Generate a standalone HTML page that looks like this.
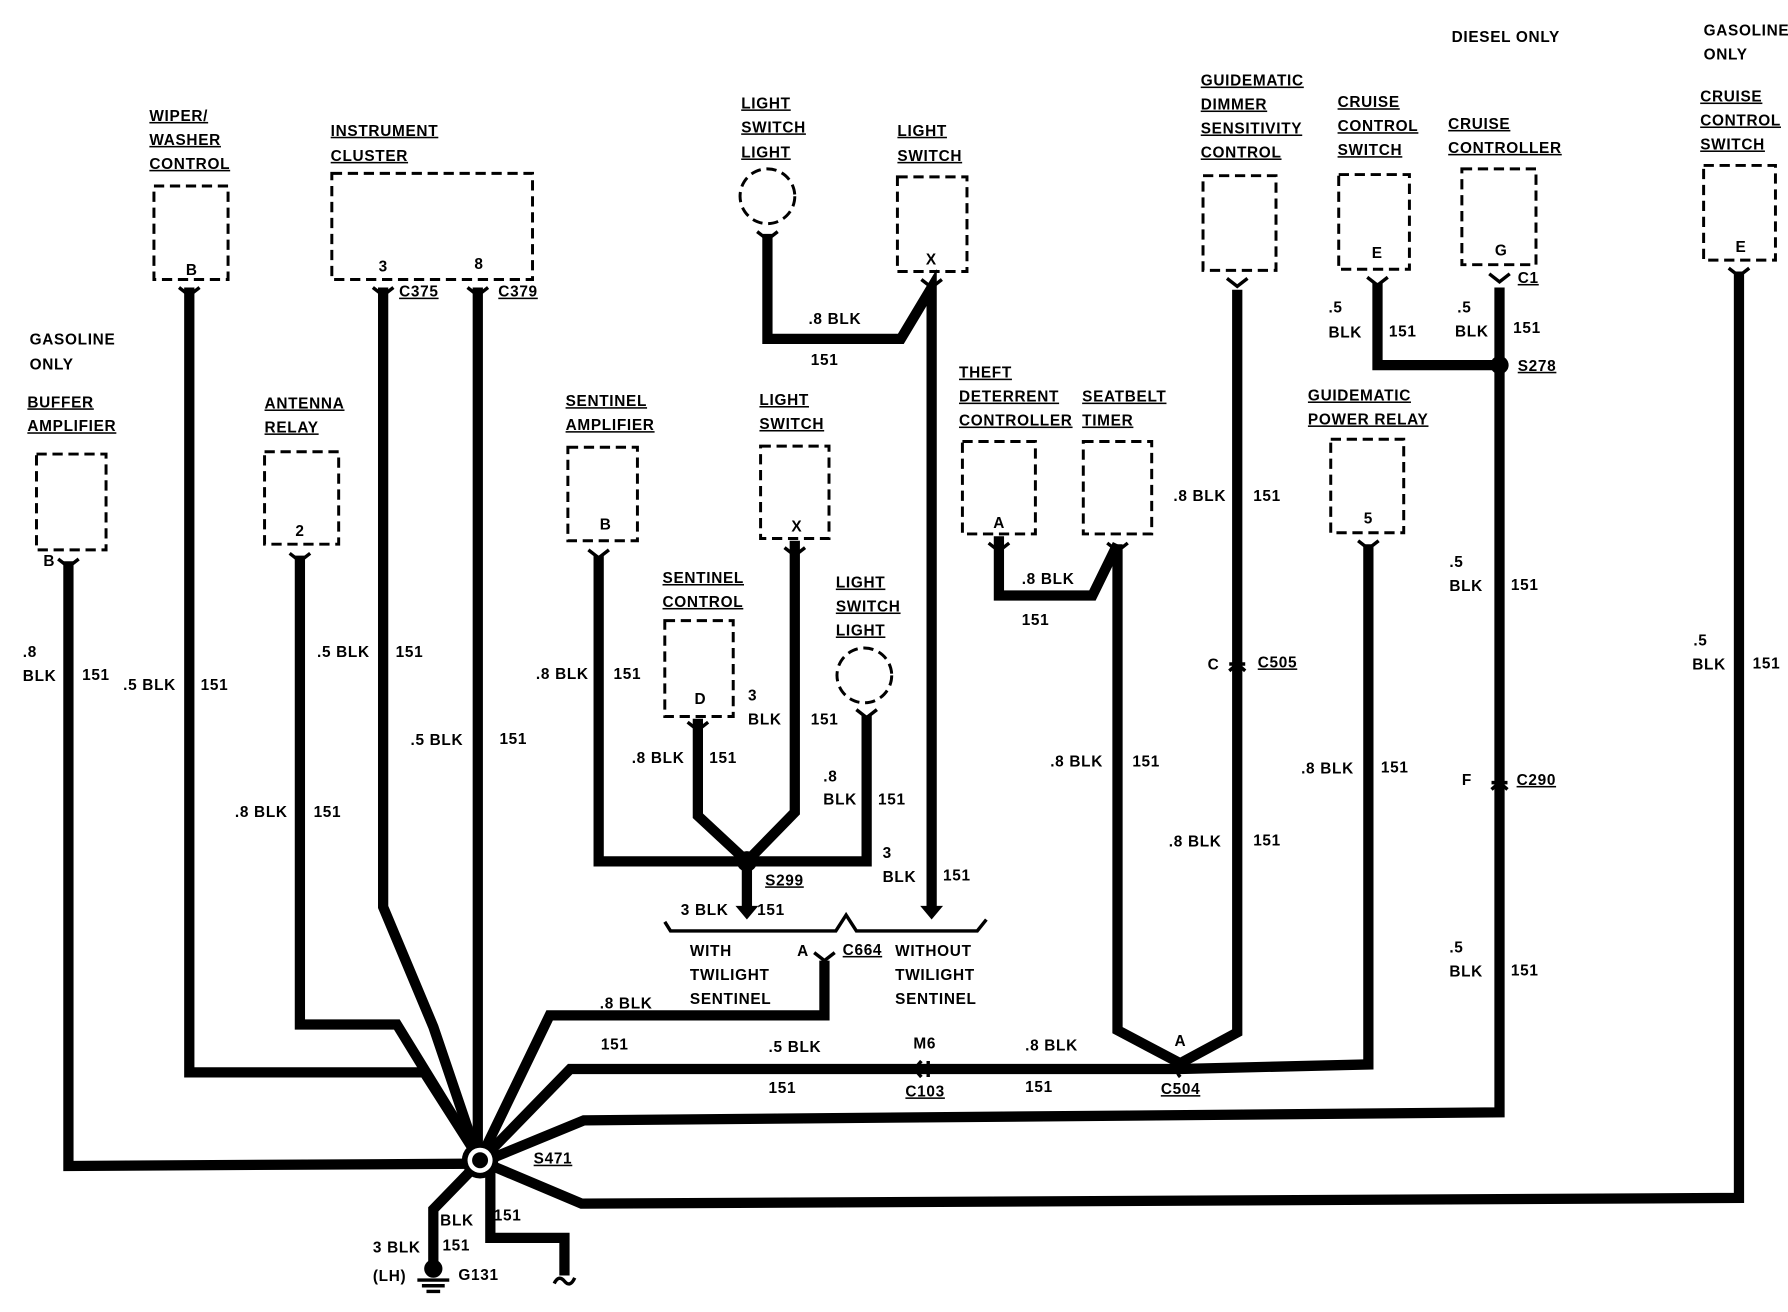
<!DOCTYPE html>
<html><head><meta charset="utf-8"><style>
html,body{margin:0;padding:0;background:#fff;}
svg{display:block;}
text{font-family:"Liberation Sans",sans-serif;font-weight:bold;font-size:13.5px;fill:#000;letter-spacing:0.6px;}
.u{text-decoration:underline;}
.w{fill:none;stroke:#000;stroke-width:9;stroke-linejoin:miter;}
.b{fill:none;stroke:#000;stroke-width:2.6;stroke-dasharray:9 5;}
.c{fill:none;stroke:#000;stroke-width:3;}
</style></head><body>
<svg width="1788" height="1312" viewBox="0 0 1568 1150" preserveAspectRatio="none" xmlns="http://www.w3.org/2000/svg">
<rect width="1568" height="1150" fill="#fff"/>
<!-- boxes -->
<rect class="b" x="135" y="163" width="65" height="82"/>
<rect class="b" x="291" y="152" width="176" height="93"/>
<rect class="b" x="32" y="398" width="61" height="84"/>
<rect class="b" x="232" y="396" width="65" height="81"/>
<rect class="b" x="498" y="392" width="61" height="82"/>
<rect class="b" x="667" y="391" width="60" height="81"/>
<rect class="b" x="583" y="544" width="60" height="84"/>
<rect class="b" x="787" y="155" width="61" height="83"/>
<rect class="b" x="844" y="387" width="64" height="81"/>
<rect class="b" x="950" y="387" width="60" height="81"/>
<rect class="b" x="1055" y="154" width="64" height="83"/>
<rect class="b" x="1174" y="153" width="62" height="83"/>
<rect class="b" x="1282" y="148" width="65" height="84"/>
<rect class="b" x="1167" y="385" width="64" height="82"/>
<rect class="b" x="1494" y="145" width="63" height="83"/>
<circle class="b" cx="673" cy="172" r="24"/>
<circle class="b" cx="758" cy="592" r="24"/>
<!-- wires -->
<polyline class="w" points="60,492 60,1022 416,1020"/>
<polyline class="w" points="166,252 166,940 372,940 418,1012"/>
<polyline class="w" points="263,487 263,898 348,898 418,1012"/>
<polyline class="w" points="336,252 336,795 380,900 418,1012"/>
<polyline class="w" points="419,252 419,1012"/>
<polyline class="w" points="723,842 723,890 482,890 423,1012"/>
<polyline class="w" points="425,1014 500,937 1035,937 1200,933 1200,477"/>
<polyline class="w" points="980,477 980,903 1035,932 1085,905 1085,254"/>
<polyline class="w" points="876,470 876,522 958,522 980,477"/>
<polyline class="w" points="427,1017 512,982 1315,975 1315,252"/>
<polyline class="w" points="1208,248 1208,320 1315,320"/>
<polyline class="w" points="427,1020 510,1055 1525,1050 1525,238"/>
<polyline class="w" points="415,1024 380,1060 380,1112"/>
<polyline class="w" points="430,1024 430,1085 495,1085 495,1118"/>
<polyline class="w" points="525,487 525,755 655,755 760,755 760,627"/>
<polyline class="w" points="612,630 612,715 655,755 697,712 697,474"/>
<polyline class="w" points="655,755 655,797"/>
<polyline class="w" points="673,205 673,297 790,297 817,252 817,797"/>
<path d="M645,794 L665,794 L655,806Z"/><path d="M807,794 L827,794 L817,806Z"/>
<!-- junctions -->
<circle cx="655" cy="755" r="9"/><circle cx="1315" cy="320" r="8"/>
<circle cx="421" cy="1017" r="16"/><circle cx="421" cy="1017" r="11" fill="#fff"/><circle cx="421" cy="1017" r="7"/>
<circle cx="380" cy="1112" r="8"/>
<path class="c" d="M366,1122h28M370,1127h20M374,1132h12"/>
<path class="c" d="M486,1125q4,-8 9,-2q5,6 9,-3"/>
<!-- connector marks -->
<g class="c">
<path d="M157,252l9,7 9,-7M327,252l9,7 9,-7M410,252l9,7 9,-7M51,490l9,7 9,-7M254,485l9,7 9,-7M516,482l9,7 9,-7M688,480l9,7 9,-7M603,633l9,7 9,-7M751,622l9,7 9,-7M664,203l9,7 9,-7M808,245l9,7 9,-7M867,476l9,7 9,-7M971,476l9,7 9,-7M1076,244l9,7 9,-7M1199,243l9,7 9,-7M1306,240l9,7 9,-7M1191,474l9,7 9,-7M1516,235l9,7 9,-7"/>
<path d="M714,835l9,7 9,-7M1078,582h14M1078,588l7,-6 7,6M1308,686h14M1308,692l7,-6 7,6M814,930v14M808,930l-6,7 6,7M1035,929q-6,8 0,15"/>
<path d="M583,808l5,8h145l9,-14 9,14h106l8,-10"/>
</g>
<!-- titles -->
<text x="131" y="106" class="u">WIPER/</text><text x="131" y="127" class="u">WASHER</text><text x="131" y="148" class="u">CONTROL</text>
<text x="290" y="119" class="u">INSTRUMENT</text><text x="290" y="141" class="u">CLUSTER</text>
<text x="26" y="302">GASOLINE</text><text x="26" y="324">ONLY</text>
<text x="24" y="357" class="u">BUFFER</text><text x="24" y="378" class="u">AMPLIFIER</text>
<text x="232" y="358" class="u">ANTENNA</text><text x="232" y="379" class="u">RELAY</text>
<text x="650" y="95" class="u">LIGHT</text><text x="650" y="116" class="u">SWITCH</text><text x="650" y="138" class="u">LIGHT</text>
<text x="787" y="119" class="u">LIGHT</text><text x="787" y="141" class="u">SWITCH</text>
<text x="496" y="356" class="u">SENTINEL</text><text x="496" y="377" class="u">AMPLIFIER</text>
<text x="666" y="355" class="u">LIGHT</text><text x="666" y="376" class="u">SWITCH</text>
<text x="581" y="511" class="u">SENTINEL</text><text x="581" y="532" class="u">CONTROL</text>
<text x="733" y="515" class="u">LIGHT</text><text x="733" y="536" class="u">SWITCH</text><text x="733" y="557" class="u">LIGHT</text>
<text x="841" y="331" class="u">THEFT</text><text x="841" y="352" class="u">DETERRENT</text><text x="841" y="373" class="u">CONTROLLER</text>
<text x="949" y="352" class="u">SEATBELT</text><text x="949" y="373" class="u">TIMER</text>
<text x="1053" y="75" class="u">GUIDEMATIC</text><text x="1053" y="96" class="u">DIMMER</text><text x="1053" y="117" class="u">SENSITIVITY</text><text x="1053" y="138" class="u">CONTROL</text>
<text x="1273" y="37">DIESEL ONLY</text>
<text x="1173" y="94" class="u">CRUISE</text><text x="1173" y="115" class="u">CONTROL</text><text x="1173" y="136" class="u">SWITCH</text>
<text x="1270" y="113" class="u">CRUISE</text><text x="1270" y="134" class="u">CONTROLLER</text>
<text x="1147" y="351" class="u">GUIDEMATIC</text><text x="1147" y="372" class="u">POWER RELAY</text>
<text x="1494" y="31">GASOLINE</text><text x="1494" y="52">ONLY</text>
<text x="1491" y="89" class="u">CRUISE</text><text x="1491" y="110" class="u">CONTROL</text><text x="1491" y="131" class="u">SWITCH</text>
<!-- pins -->
<g style="font-size:11px"><text x="163" y="241">B</text><text x="332" y="238">3</text><text x="416" y="236">8</text><text x="38" y="496">B</text><text x="259" y="470">2</text><text x="526" y="464">B</text><text x="694" y="466">X</text><text x="609" y="617">D</text><text x="812" y="232">X</text><text x="871" y="463">A</text><text x="1196" y="459">5</text><text x="1203" y="226">E</text><text x="1311" y="224">G</text><text x="1522" y="221">E</text></g>
<!-- wire labels -->
<text x="20" y="576">.8</text><text x="20" y="597">BLK</text><text x="72" y="596">151</text>
<text x="108" y="605">.5 BLK</text><text x="176" y="605">151</text>
<text x="278" y="576">.5 BLK</text><text x="347" y="576">151</text>
<text x="360" y="653">.5 BLK</text><text x="438" y="652">151</text>
<text x="206" y="716">.8 BLK</text><text x="275" y="716">151</text>
<text x="350" y="260" class="u">C375</text><text x="437" y="260" class="u">C379</text>
<text x="709" y="284">.8 BLK</text><text x="711" y="320">151</text>
<text x="470" y="595">.8 BLK</text><text x="538" y="595">151</text>
<text x="656" y="614">3</text><text x="656" y="635">BLK</text><text x="711" y="635">151</text>
<text x="554" y="669">.8 BLK</text><text x="622" y="669">151</text>
<text x="722" y="685">.8</text><text x="722" y="705">BLK</text><text x="770" y="705">151</text>
<text x="774" y="752">3</text><text x="774" y="773">BLK</text><text x="827" y="772">151</text>
<text x="671" y="776" class="u">S299</text>
<text x="597" y="802">3 BLK</text><text x="664" y="802">151</text>
<text x="605" y="838">WITH</text><text x="605" y="859">TWILIGHT</text><text x="605" y="880">SENTINEL</text>
<text x="699" y="838">A</text><text x="739" y="837" class="u">C664</text>
<text x="785" y="838">WITHOUT</text><text x="785" y="859">TWILIGHT</text><text x="785" y="880">SENTINEL</text>
<text x="526" y="884">.8 BLK</text><text x="527" y="920">151</text>
<text x="674" y="922">.5 BLK</text><text x="674" y="958">151</text>
<text x="801" y="919">M6</text><text x="794" y="961" class="u">C103</text>
<text x="899" y="921">.8 BLK</text><text x="899" y="957">151</text>
<text x="1030" y="917">A</text><text x="1018" y="959" class="u">C504</text>
<text x="896" y="512">.8 BLK</text><text x="896" y="548">151</text>
<text x="921" y="672">.8 BLK</text><text x="993" y="672">151</text>
<text x="1029" y="439">.8 BLK</text><text x="1099" y="439">151</text>
<text x="1059" y="587">C</text><text x="1103" y="585" class="u">C505</text>
<text x="1025" y="742">.8 BLK</text><text x="1099" y="741">151</text>
<text x="1141" y="678">.8 BLK</text><text x="1211" y="677">151</text>
<text x="1165" y="274">.5</text><text x="1165" y="296">BLK</text><text x="1218" y="295">151</text>
<text x="1278" y="274">.5</text><text x="1276" y="295">BLK</text><text x="1327" y="292">151</text>
<text x="1331" y="248" class="u">C1</text><text x="1331" y="325" class="u">S278</text>
<text x="1271" y="497">.5</text><text x="1271" y="518">BLK</text><text x="1325" y="517">151</text>
<text x="1282" y="688">F</text><text x="1330" y="688" class="u">C290</text>
<text x="1271" y="835">.5</text><text x="1271" y="856">BLK</text><text x="1325" y="855">151</text>
<text x="1485" y="566">.5</text><text x="1484" y="587">BLK</text><text x="1537" y="586">151</text>
<text x="468" y="1020" class="u">S471</text>
<text x="386" y="1074">BLK</text><text x="433" y="1070">151</text>
<text x="327" y="1098">3 BLK</text><text x="388" y="1096">151</text>
<text x="327" y="1123">(LH)</text><text x="402" y="1122">G131</text>
</svg>
</body></html>
